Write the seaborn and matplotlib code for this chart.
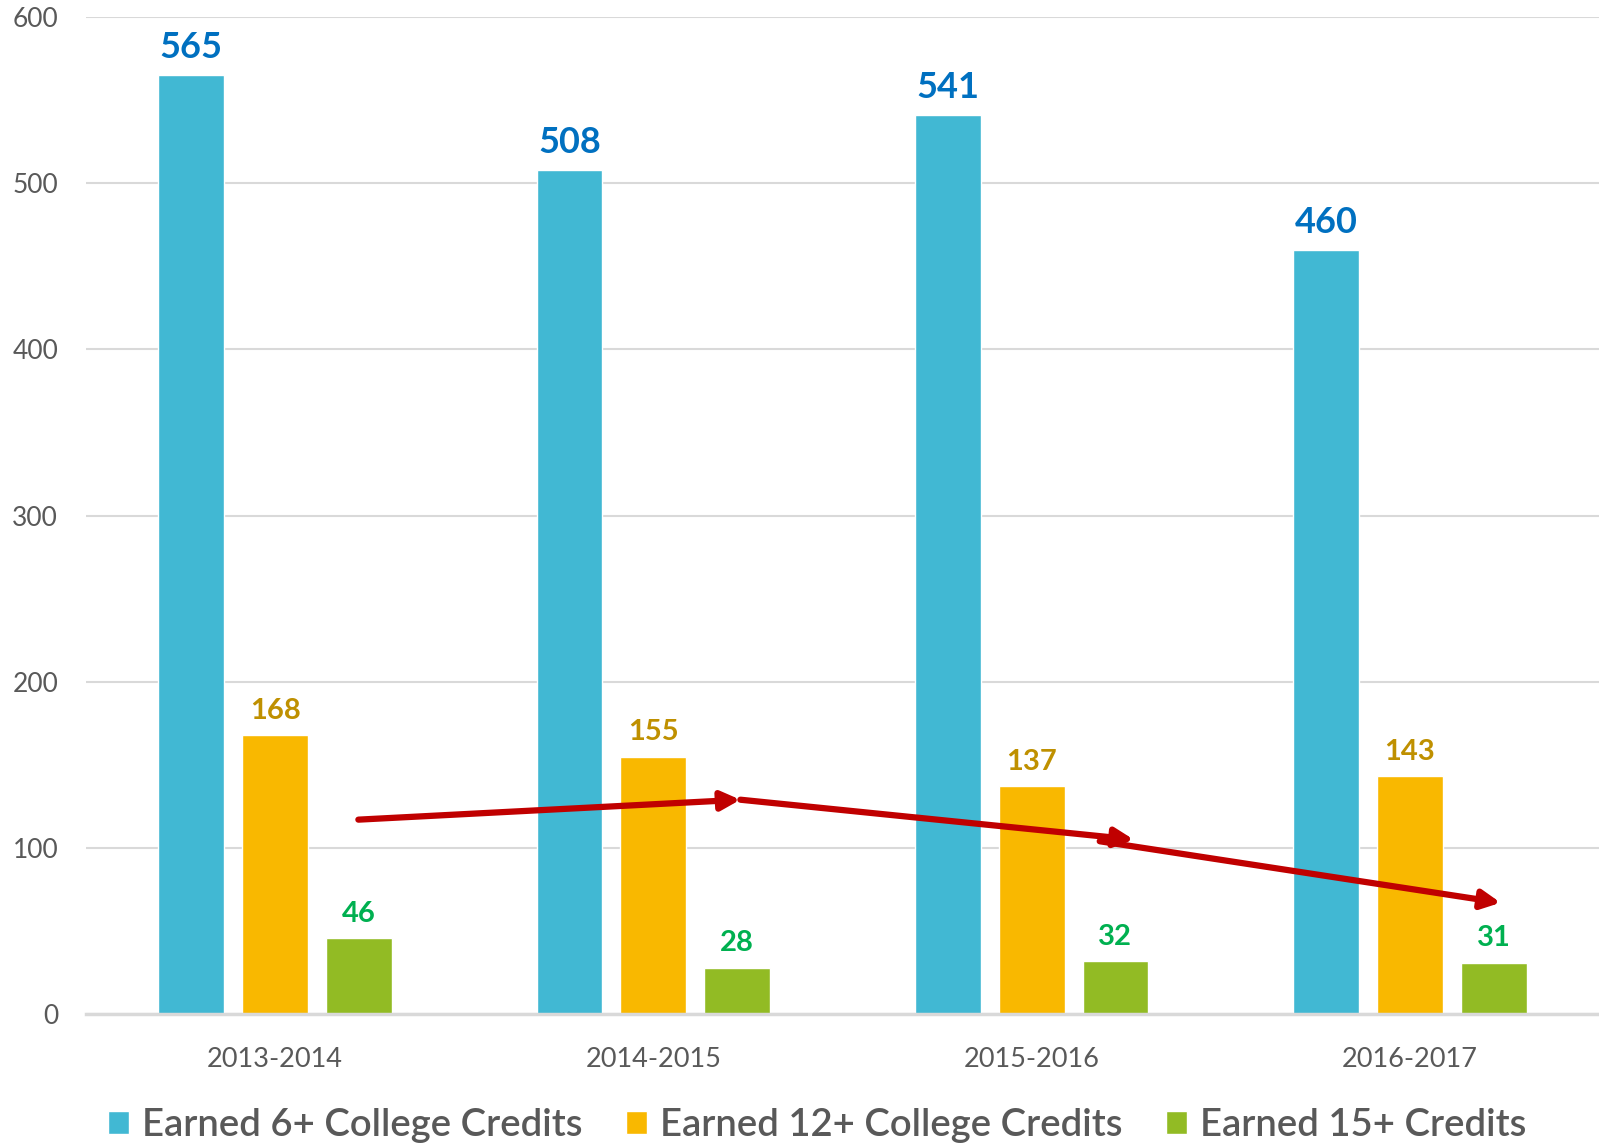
import matplotlib
matplotlib.use("Agg")
import matplotlib.pyplot as plt
import seaborn as sns
import pandas as pd

# ---- data ----
years = ["2013-2014", "2014-2015", "2015-2016", "2016-2017"]
series_names = ["Earned 6+ College Credits", "Earned 12+ College Credits", "Earned 15+ Credits"]
credits_6 = [565, 508, 541, 460]
credits_12 = [168, 155, 137, 143]
credits_15 = [46, 28, 32, 31]
y_ticks = [0, 100, 200, 300, 400, 500, 600]

# hand-drawn red trend arrows (start x, start y, end x, end y) in data units
arrow_starts_x = [0.22, 1.23, 2.18]
arrow_starts_y = [117, 129, 104]
arrow_ends_x = [1.23, 2.27, 3.24]
arrow_ends_y = [129, 105, 67]

bar_colors = ["#41B8D3", "#F9B800", "#92BB24"]
label_colors = ["#0070C0", "#BF9000", "#00B050"]
label_sizes = [26, 21, 21]
text_gray = "#595959"

df = pd.DataFrame({
    "year": years * 3,
    "series": [series_names[0]] * 4 + [series_names[1]] * 4 + [series_names[2]] * 4,
    "value": credits_6 + credits_12 + credits_15,
})

sns.set_style("white")
plt.rcParams["font.family"] = ["Lato", "DejaVu Sans"]

fig = plt.figure(figsize=(15.99, 11.44), dpi=100)
ax = fig.add_axes([0.0538, 0.1136, 0.9462, 0.8714])

sns.barplot(data=df, x="year", y="value", hue="series", hue_order=series_names,
            order=years, palette=bar_colors, width=0.665, gap=0.214,
            saturation=1, ax=ax, errorbar=None)

ax.set_ylim(0, 600)
ax.set_xlim(-0.5, 3.5)
ax.set_yticks(y_ticks)
ax.set_yticklabels([str(v) for v in y_ticks])
ax.yaxis.grid(True, color="#D9D9D9", linewidth=1.5)
ax.set_axisbelow(True)
for s in ["top", "right", "left"]:
    ax.spines[s].set_visible(False)
ax.spines["bottom"].set_color("#D9D9D9")
ax.spines["bottom"].set_linewidth(2.5)
ax.tick_params(axis="y", length=0, pad=20, labelsize=19, labelcolor=text_gray)
ax.tick_params(axis="x", length=0, pad=24, labelsize=19.5, labelcolor=text_gray)
ax.set_xlabel("")
ax.set_ylabel("")

for cont, col, fs in zip(ax.containers, label_colors, label_sizes):
    ax.bar_label(cont, fmt="%d", padding=8, color=col, fontsize=fs, fontweight="bold")

for sx, sy, ex, ey in zip(arrow_starts_x, arrow_starts_y, arrow_ends_x, arrow_ends_y):
    ax.annotate("", xy=(ex, ey), xytext=(sx, sy), xycoords="data",
                arrowprops=dict(arrowstyle="-|>", color="#C00000", lw=4.5,
                                mutation_scale=28, shrinkA=0, shrinkB=0))

handles, labels = ax.get_legend_handles_labels()
ax.get_legend().remove()
fig.legend(handles, labels, loc="center", bbox_to_anchor=(0.511, 0.016), ncol=3,
           frameon=False, labelcolor=text_gray, handlelength=0.55,
           handleheight=0.55, handletextpad=0.33, columnspacing=1.15,
           prop={"size": 27.5, "weight": "semibold"})

fig.savefig("out.png", dpi=100)
